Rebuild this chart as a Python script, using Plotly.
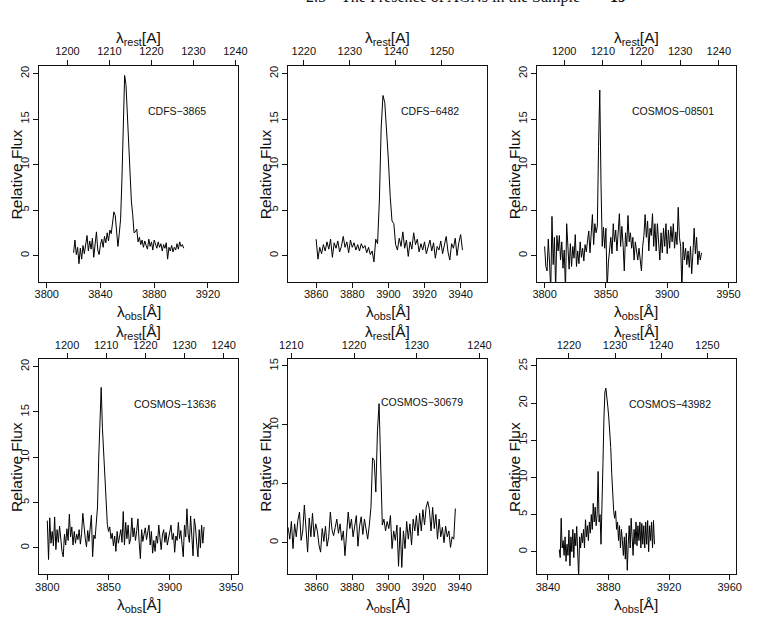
import plotly.graph_objects as go

W, H = 759, 624

# ---------------- data ----------------
names = ["CDFS\u22123865", "CDFS\u22126482", "COSMOS\u221208501",
         "COSMOS\u221213636", "COSMOS\u221230679", "COSMOS\u221243982"]

# wavelength grid (start, step) in observed Angstrom for each spectrum
grid_start = [3820.0, 3860.0, 3800.0, 3800.0, 3844.2, 3847.49]
grid_step = [1.0, 1.0, 1.0, 1.0, 0.907, 0.6417]

flux_cdfs3865 = [
    0.3, 1.7, 0.1, 0.9, -0.9, 0.8, -0.4, 1.1, 0.2, 1.5, 2.2, 0.5, 1.6, 0.7, 1.9, -0.2,
    1.4, 2.6, 0.6, 0.1, 1.2, 1.8, 0.9, 2.1, 1.4, 2.5, 1.6, 2.8, 2.4, 3.4, 4.8, 4.4,
    2.6, 1.0, 2.4, 4.0, 8.5, 15.5, 19.8, 18.8, 15.2, 12.0, 9.5, 6.0, 4.5, 2.5, 2.6, 2.9,
    1.5, 2.0, 1.2, 1.7, 0.9, 1.6, 1.1, 0.7, 1.8, 1.0, 1.5, 0.6, 1.7, 1.2, 0.8, 1.5,
    0.9, 1.3, 0.5, 1.2, 0.8, 1.4, -0.4, 0.9, 0.5, 1.1, 0.4, 0.9, 0.6, 1.3, 0.7, 1.5,
    1.0, 1.2, 0.8]

flux_cdfs6482 = [
    1.8, -0.4, 0.9, 0.2, 1.2, 0.5, 1.5, 0.7, 1.8, -0.2, 1.4, 0.8, 1.6, 0.4, 1.0, 2.1,
    0.9, 1.5, 0.3, 1.7, 0.9, 1.4, 0.6, 1.2, 0.5, 1.3, 0.8, 1.1, 0.3, 0.9, 0.1, 0.5,
    -0.7, 1.8, 1.3, 6.0, 14.0, 17.6, 16.8, 13.8, 10.5, 6.5, 3.8, 3.5, 1.2, 0.6, 1.9, 1.0,
    2.6, 0.8, 1.7, -0.1, 1.5, 0.7, 2.5, 1.2, 1.8, 0.4, 1.3, 0.6, 1.5, 0.2, 1.1, 1.7,
    0.5, 1.4, -0.3, 1.0, 0.6, 1.6, 0.2, 1.2, 2.1, 0.4, -0.5, 1.3, 0.8, 1.9, 0.0, 1.4,
    2.3, 0.6]

flux_cosmos08501 = [
    1.0, -1.2, -1.7, 1.8, -0.8, -3.8, 4.3, -1.0, 2.0, -3.6, 2.2, 0.5, 2.2, -0.5, 1.5, -1.4,
    0.6, -3.8, 3.5, 1.5, -1.5, 1.3, -1.2, 1.0, -0.3, 2.3, -1.2, 0.5, -0.9, 1.5, -0.2, 0.8,
    -0.6, 1.2, 0.4, 1.6, 2.7, 0.3, 2.0, 4.5, 1.2, 3.5, 2.5, 3.2, 12.0, 18.2, 8.0, 1.0,
    3.1, 0.8, 3.0, -3.8, -0.8, 1.0, 2.0, 0.2, 3.5, 1.5, 2.8, 0.5, 2.2, 4.6, 1.0, 3.2,
    1.2, -1.7, 2.5, 1.0, 4.4, 1.5, 2.5, 0.8, 2.0, -0.5, 1.5, 0.3, -0.5, 0.8, -1.0, -1.7,
    1.0, 2.2, 4.5, 2.0, 3.8, 0.5, 3.0, 2.2, 4.6, 1.0, 3.5, 0.5, 3.5, 1.2, -0.5, 2.5,
    0.3, 3.0, 1.0, 3.5, 0.2, 2.8, 0.8, 3.2, 1.5, 3.5, 0.8, 2.6, 1.2, 5.3, 2.0, 1.0,
    -3.8, 1.5, -0.5, 0.8, -1.0, 0.5, -1.3, 1.0, -2.0, 0.3, 3.0, 0.2, 2.0, -1.0, 0.5, -0.5,
    0.3]

flux_cosmos13636 = [
    3.0, -1.3, 3.3, 0.5, 1.8, 0.2, 3.4, -0.2, 2.0, 0.6, 2.4, 0.9, -0.4, -1.0, 1.5, 0.3,
    2.1, 0.8, 3.7, 1.2, 2.3, 0.3, 1.8, 0.5, 1.5, 0.9, 2.0, 0.4, 1.6, 3.8, 2.2, 1.0,
    0.1, 1.9, 0.7, 2.4, 3.6, -1.0, 1.4, 1.0, 2.4, 4.5, 10.0, 15.5, 17.7, 13.2, 10.5, 6.5,
    4.2, 2.6, 1.8, 2.3, 1.0, 1.6, 0.2, 1.3, -0.4, 1.8, 0.5, 1.2, 2.0, 0.6, 4.0, 0.3,
    2.8, 1.0, 2.5, 0.4, 1.0, 3.3, 1.2, 2.2, 0.8, 1.9, 3.2, 0.6, -1.2, 2.0, 0.7, 1.5,
    2.2, 0.9, 1.6, 2.5, 0.3, 1.8, -0.6, 0.8, -0.4, 1.3, 0.5, 2.5, 1.1, -0.2, 1.4, 2.0,
    0.6, 1.7, 0.3, 1.2, 2.1, 2.5, 0.9, 1.6, -0.5, 1.3, 0.8, 2.8, 1.0, 1.9, 0.4, -1.0,
    2.5, 1.2, 4.3, 1.5, 0.6, 3.5, 1.3, -0.9, 3.2, 2.3, 0.4, -1.0, 2.0, 0.0, 2.5, 0.5,
    2.3]

flux_cosmos30679 = [
    1.3, 0.3, 1.8, -0.5, 1.6, 0.5, 1.9, 2.6, 0.2, 1.0, 3.2, 0.6, -0.8, 2.1, 0.5, 2.5,
    0.5, 1.6, 1.0, -0.2, -0.8, 1.2, 0.1, 1.4, -0.3, 0.5, 2.6, 1.1, 0.6, 1.3, 2.0, 0.8,
    1.6, 0.2, 1.0, -1.1, 1.0, 2.6, 1.2, 2.0, 0.5, 1.5, 2.3, -0.3, 1.4, 2.2, 0.7, 2.0,
    0.9, 0.3, 1.5, 3.0, 7.2, 7.0, 4.3, 9.5, 11.8, 5.5, 1.5, 2.0, 1.0, 1.8, 1.2, 2.3,
    -0.5, 1.0, 0.2, 1.5, -2.0, 1.3, -2.1, 1.0, -0.5, 1.8, 0.3, 1.6, -0.2, 2.0, 1.0, 2.3,
    0.6, 2.5, 1.0, 2.8, 1.5, 3.0, 3.5, 2.8, 1.0, 3.0, 1.2, 2.4, 0.3, 2.0, 0.5, 1.3,
    0.0, 1.4, 0.5, 1.0, -0.4, 0.5, 0.3, 2.9]

flux_cosmos43982 = [
    0.3, -0.8, 4.5, 0.5, 1.5, -0.5, 2.0, -1.3, 1.0, -0.5, 2.9, -1.9, 2.0, 0.0, 3.0, -0.8,
    2.5, 0.8, 3.4, -1.5, -3.5, 2.0, 0.5, 2.5, 1.2, 3.0, 0.5, 4.3, 2.0, 3.5, 1.5, 4.0,
    2.5, 5.0, 3.0, 6.5, 4.0, 6.0, 3.5, 5.0, 10.8, 4.0, 5.0, 1.0, 5.0, 12.0, 18.0, 21.5,
    22.0, 21.0, 19.5, 18.0, 16.5, 14.0, 10.5, 7.5, 5.5, 4.5, 5.5, 3.0, 4.0, 1.5, 3.5, 0.5,
    3.0, 1.5, -0.5, 2.0, -1.0, 2.5, -2.5, 1.0, 3.5, 0.5, 4.5, 2.0, -0.5, 3.0, 1.0, 4.0,
    0.8, 3.5, 1.5, 4.0, 0.5, 3.8, 1.0, 3.5, 0.5, 4.0, 1.0, 4.2, 0.0, 3.5, 1.5, 4.0,
    0.5, 4.2, 1.0]

fluxes = [flux_cdfs3865, flux_cdfs6482, flux_cosmos08501,
          flux_cosmos13636, flux_cosmos30679, flux_cosmos43982]

# axis ranges / ticks
obs_range = [[3794.4, 3942.5], [3844.5, 3954.6], [3793.9, 3956.0],
             [3793.4, 3955.8], [3844.2, 3955.3], [3832.9, 3964.1]]
rest_range = [[1193.27, 1240.63], [1216.6, 1259.8], [1193.0, 1244.4],
              [1192.9, 1243.7], [1209.5, 1241.2], [1213.1, 1256.2]]
flux_range = [[-2.94, 20.85], [-2.94, 20.85], [-2.94, 20.85],
              [-2.94, 20.85], [-2.69, 15.6], [-3.05, 25.94]]
obs_ticks = [[3800, 3840, 3880, 3920], [3860, 3880, 3900, 3920, 3940],
             [3800, 3850, 3900, 3950], [3800, 3850, 3900, 3950],
             [3860, 3880, 3900, 3920, 3940], [3840, 3880, 3920, 3960]]
rest_ticks = [[1200, 1210, 1220, 1230, 1240], [1220, 1230, 1240, 1250],
              [1200, 1210, 1220, 1230, 1240], [1200, 1210, 1220, 1230, 1240],
              [1210, 1220, 1230, 1240], [1220, 1230, 1240, 1250]]
flux_ticks = [[0, 5, 10, 15, 20]] * 4 + [[0, 5, 10, 15], [0, 5, 10, 15, 20, 25]]

# ---------------- layout geometry (pixels) ----------------
col_px = [(31, 235), (286.3, 490.3), (541.7, 745.5)]
row_px = [(65, 281.7), (358.5, 574.3)]

def px_x(v):
    return v / W

def px_y(v):
    return 1 - v / H

FONT = "Liberation Sans, Arial, Helvetica, sans-serif"
INK = "#111111"

fig = go.Figure()
layout = dict(
    width=W, height=H, margin=dict(l=0, r=0, t=0, b=0),
    paper_bgcolor="white", plot_bgcolor="white", showlegend=False,
    font=dict(family=FONT, color=INK, size=11),
)
annotations = []

for i in range(6):
    r, c = divmod(i, 3)
    n = i + 1
    xa = "x" if n == 1 else f"x{n}"
    ya = "y" if n == 1 else f"y{n}"
    ta = f"x{n + 6}"
    x0, x1 = col_px[c]
    yt, yb = row_px[r]

    flux = fluxes[i]
    wl = [grid_start[i] + grid_step[i] * k for k in range(len(flux))]
    fig.add_trace(go.Scatter(x=wl, y=flux, mode="lines",
                             line=dict(color="#000000", width=1),
                             xaxis=xa, yaxis=ya, hoverinfo="skip"))
    # invisible trace carrying the rest-frame (top) axis
    fig.add_trace(go.Scatter(x=rest_ticks[i], y=[None] * len(rest_ticks[i]),
                             mode="markers", marker=dict(opacity=0),
                             xaxis=ta, yaxis=ya, hoverinfo="skip"))

    axcommon = dict(showgrid=False, zeroline=False, ticks="outside", ticklen=5,
                    tickwidth=1, tickcolor=INK, linecolor=INK, linewidth=1,
                    tickfont=dict(family=FONT, size=11, color=INK))
    layout["xaxis" + ("" if n == 1 else str(n))] = dict(
        domain=[px_x(x0), px_x(x1)], anchor=ya, range=obs_range[i],
        tickmode="array", tickvals=obs_ticks[i], showline=True, mirror=True,
        ticklabelstandoff=-3, **axcommon)
    layout["yaxis" + ("" if n == 1 else str(n))] = dict(
        domain=[px_y(yb), px_y(yt)], anchor=xa, range=flux_range[i],
        tickmode="array", tickvals=flux_ticks[i], showline=True, mirror=True,
        tickangle=-90, **axcommon)
    layout[f"xaxis{n + 6}"] = dict(
        overlaying=xa, anchor=ya, side="top", range=rest_range[i],
        domain=[px_x(x0), px_x(x1)],
        tickmode="array", tickvals=rest_ticks[i], showline=False, **axcommon)

    cx = (x0 + x1) / 2
    # bottom title
    annotations.append(dict(
        text="\u03bb<sub>obs</sub>[\u00c5]", x=px_x(cx), y=px_y(312 if r == 0 else 605.5),
        xref="paper", yref="paper", showarrow=False, xanchor="center", yanchor="middle",
        font=dict(family=FONT, size=15.5, color=INK)))
    # top title
    annotations.append(dict(
        text="\u03bb<sub>rest</sub>[A]" if r == 0 else "\u03bb<sub>rest</sub>[\u00c5]",
        x=px_x(cx), y=px_y(38 if r == 0 else 331.6),
        xref="paper", yref="paper", showarrow=False, xanchor="center", yanchor="middle",
        font=dict(family=FONT, size=15.5, color=INK)))
    # y title
    annotations.append(dict(
        text="Relative Flux", textangle=-90, x=px_x(x0 - 23.5), y=px_y((yt + yb) / 2),
        xref="paper", yref="paper", showarrow=False, xanchor="center", yanchor="middle",
        font=dict(family=FONT, size=15.5, color=INK)))

# object labels
label_pos = [(172.8, 110), (431.3, 110), (681, 110), (170.3, 403.3), (423.5, 401.7), (677.5, 404)]
for name, (lx, ly) in zip(names, label_pos):
    annotations.append(dict(
        text=name, x=px_x(lx), y=px_y(ly), xref="paper", yref="paper", showarrow=False,
        xanchor="center", yanchor="middle", font=dict(family=FONT, size=10.5, color=INK)))

# running page header (cut at the top edge)
SERIF = "Liberation Serif, Times New Roman, serif"
for txt, hx in [("2.5", 303), ("The Presence of AGNs in the Sample", 338), ("<b>19</b>", 614)]:
    annotations.append(dict(
        text=txt, x=px_x(hx), y=1 + 4.5 / H, xref="paper", yref="paper", showarrow=False,
        xanchor="left", yanchor="middle", font=dict(family=SERIF, size=16, color=INK)))

layout["annotations"] = annotations
fig.update_layout(**layout)
fig.write_html("out.html")
